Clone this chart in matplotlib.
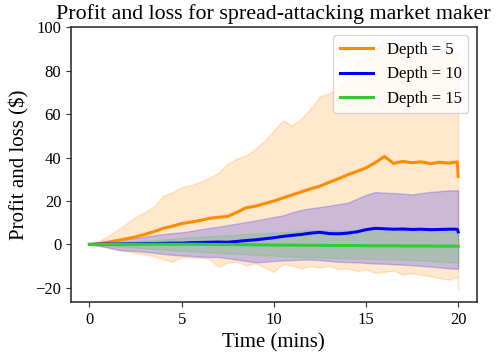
import matplotlib
matplotlib.use("Agg")
import matplotlib.pyplot as plt

# time axis (minutes); last two points show the final jump at t = 20
times = [0, 0.5, 1, 1.5, 2, 2.5, 3, 3.5, 4, 4.5, 5, 5.5, 6, 6.5, 7, 7.5, 8, 8.5, 9, 9.5,
         10, 10.5, 11, 11.5, 12, 12.5, 13, 13.5, 14, 14.5, 15, 15.5, 16, 16.5, 17, 17.5,
         18, 18.5, 19, 19.5, 19.95, 20]

# depth = 5
o_mid = [0, 0.4, 1.0, 1.8, 2.6, 3.5, 4.6, 5.9, 7.4, 8.4, 9.6, 10.3, 11.0, 12.0, 12.5, 12.9,
         14.8, 16.9, 17.6, 18.8, 20.0, 21.4, 22.8, 24.2, 25.6, 26.8, 28.6, 30.2, 32.0, 33.6,
         35.2, 37.6, 40.5, 37.3, 38.2, 37.6, 38.0, 37.2, 37.8, 37.4, 38.0, 31.3]
o_hi = [0, 1.5, 3.8, 6.6, 9.6, 12.6, 14.8, 17.5, 22.4, 24.0, 26.4, 27.2, 28.8, 30.6, 33.0,
        37.2, 39.5, 41.0, 44.0, 47.6, 52.5, 57.1, 54.8, 58.0, 62.5, 68.2, 69.5, 71.8, 76.0,
        83.5, 86.0, 89.5, 94.5, 90.0, 92.0, 89.5, 88.0, 87.0, 89.0, 88.5, 88.0, 84.0]
o_lo = [0, -0.6, -1.5, -2.6, -3.2, -4.0, -4.6, -5.4, -6.8, -8.0, -5.8, -6.2, -6.0, -6.8,
        -10.2, -8.4, -8.0, -9.6, -8.6, -10.5, -12.6, -9.0, -9.8, -11.0, -10.0, -10.6, -9.8,
        -11.4, -11.0, -12.2, -11.6, -13.0, -12.6, -12.0, -13.8, -13.2, -14.0, -14.6, -15.6,
        -16.2, -15.0, -20.4]

# depth = 10
b_mid = [0, 0.1, 0.2, 0.2, 0.3, 0.3, 0.4, 0.4, 0.5, 0.6, 0.6, 0.8, 0.9, 1.0, 1.1, 1.0, 1.4,
         1.8, 2.1, 2.6, 3.1, 3.7, 4.2, 4.6, 5.2, 5.6, 5.0, 4.9, 5.2, 5.8, 6.8, 7.4, 7.2, 7.0,
         7.1, 6.9, 7.0, 6.8, 6.9, 7.0, 7.0, 5.8]
b_hi = [0, 0.5, 1.1, 1.8, 2.5, 3.0, 3.6, 4.2, 4.8, 5.2, 5.6, 6.2, 6.9, 7.6, 8.2, 8.9, 9.6,
        10.3, 11.0, 11.8, 12.6, 13.4, 14.8, 15.9, 16.6, 17.2, 17.8, 18.5, 19.2, 21.0, 22.8,
        24.1, 23.8, 23.6, 23.4, 23.0, 23.6, 24.2, 24.5, 24.9, 24.9, 24.9]
b_lo = [0, -0.6, -1.3, -2.3, -2.8, -3.0, -3.4, -3.8, -4.4, -4.8, -5.1, -5.3, -5.6, -5.8, -5.8,
        -6.4, -7.0, -7.6, -8.2, -8.0, -7.6, -7.4, -7.2, -7.0, -7.0, -7.2, -7.6, -8.0, -8.1,
        -8.2, -8.5, -8.8, -8.9, -9.1, -9.3, -9.6, -9.9, -10.2, -10.6, -11.0, -11.2, -11.2]

# depth = 15
g_mid = [0, 0, 0.1, 0.1, 0.1, 0.1, 0.1, 0.1, 0.1, 0.1, 0.1, 0.1, 0.1, 0.0, 0.0, 0.0, -0.1,
         -0.1, -0.2, -0.2, -0.3, -0.3, -0.3, -0.4, -0.4, -0.4, -0.5, -0.5, -0.5, -0.5, -0.6,
         -0.6, -0.6, -0.6, -0.7, -0.7, -0.7, -0.7, -0.8, -0.8, -0.8, -0.8]
g_hi = [0, 0.3, 0.6, 0.9, 1.2, 1.5, 1.8, 2.0, 2.3, 2.6, 3.0, 3.2, 3.5, 3.8, 4.0, 4.2, 4.5,
        4.8, 5.0, 5.2, 5.4, 5.6, 5.8, 6.2, 6.5, 6.4, 6.6, 6.3, 6.5, 6.2, 6.0, 6.2, 6.0, 6.1,
        6.3, 6.1, 6.0, 6.2, 6.0, 5.9, 5.8, 5.8]
g_lo = [0, -0.3, -0.6, -0.9, -1.2, -1.5, -1.8, -2.0, -2.3, -2.6, -2.8, -3.0, -3.3, -3.6,
        -3.9, -4.1, -4.3, -4.5, -4.8, -5.0, -5.2, -5.4, -5.6, -5.8, -6.0, -6.0, -6.2, -6.3,
        -6.4, -6.5, -6.6, -6.7, -6.8, -6.9, -7.0, -7.2, -7.4, -7.6, -7.9, -8.1, -8.3, -8.4]

labels = ["Depth = 5", "Depth = 10", "Depth = 15"]
colours = ["darkorange", "blue", "limegreen"]

plt.rcParams["font.family"] = ["Liberation Serif", "DejaVu Serif"]
plt.rcParams["font.size"] = 12

fig = plt.figure(figsize=(4.98, 3.57), dpi=100)
ax = fig.add_axes([0.1426, 0.154, 0.8144, 0.770])

series = [(o_mid, o_lo, o_hi), (b_mid, b_lo, b_hi), (g_mid, g_lo, g_hi)]
for (mid, lo, hi), lab, col in zip(series, labels, colours):
    ax.plot(times, mid, color=col, lw=2.2, label=lab)
    ax.fill_between(times, lo, hi, color=col, alpha=0.2)

ax.set_xlim(-1, 21)
ax.set_ylim(-26.5, 100)
ax.set_xticks([0, 5, 10, 15, 20])
ax.set_yticks([-20, 0, 20, 40, 60, 80, 100])
for sp in ax.spines.values():
    sp.set_color("#333333")
    sp.set_linewidth(1.2)
ax.tick_params(color="#333333", labelsize=12)

ax.set_title("Profit and loss for spread-attacking market maker", fontsize=15.8)
ax.set_xlabel("Time (mins)", fontsize=15)
ax.set_ylabel("Profit and loss (\\$)", fontsize=15)
ax.legend(loc="upper right", fontsize=12)

fig.savefig("out.png", dpi=100)
